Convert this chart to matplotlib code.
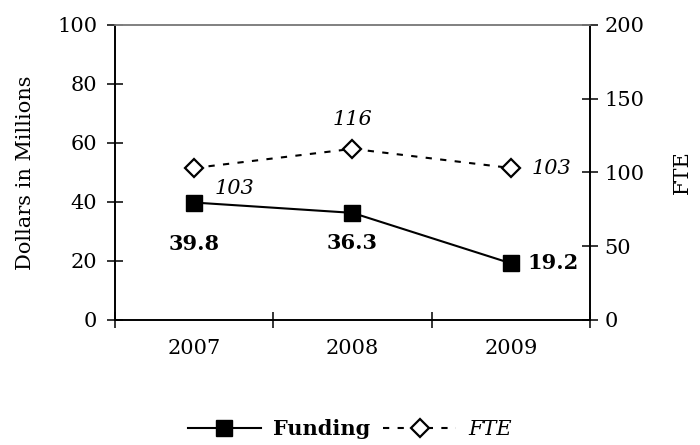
import numpy as np
import matplotlib.pyplot as plt

years = ['2007', '2008', '2009']
funding = [39.8, 36.3, 19.2]
fte = [103, 116, 103]

plt.rcParams['font.family'] = 'DejaVu Serif'
plt.rcParams['font.size'] = 15

fig = plt.figure(figsize=(7, 4.45), dpi=100)
ax = fig.add_axes([0.164, 0.281, 0.679, 0.663])
ax2 = ax.twinx()

x = np.arange(len(years)) + 0.5

l1, = ax.plot(x, funding, '-', color='black', lw=1.5, marker='s', ms=11,
              markerfacecolor='black', label='Funding')
l2, = ax2.plot(x, fte, color='black', lw=1.5, ls=(0, (3, 4)), marker='D', ms=9,
               markerfacecolor='white', markeredgewidth=1.6, label='FTE')

ax.set_xlim(0, 3)
ax.set_ylim(0, 100)
ax2.set_ylim(0, 200)
ax.set_yticks(np.arange(0, 101, 20))
ax2.set_yticks(np.arange(0, 201, 50))
ax.set_xticks(np.arange(0, 4))
ax.set_xticklabels([])
ax.set_xticks(x, minor=True)
ax.set_xticklabels(years, minor=True)
ax.tick_params(axis='x', which='minor', length=0, pad=14)
ax.tick_params(axis='x', which='major', direction='inout', length=12, width=1.1)
ax.tick_params(axis='y', direction='inout', length=11, width=1.1, pad=7)
ax2.tick_params(axis='y', direction='inout', length=11, width=1.1, pad=5)

for a in (ax, ax2):
    for s in a.spines.values():
        s.set_linewidth(1.2)
    a.spines['top'].set_color('#808080')
ax.set_ylabel('Dollars in Millions', labelpad=16)
ax2.set_ylabel('FTE', labelpad=20)

# funding labels
offs_f = [(0, -30), (0, -22), (12, 0)]
has_f = ['center', 'center', 'left']
for xi, v, o, ha in zip(x, funding, offs_f, has_f):
    ax.annotate(f'{v:.1f}', (xi, v), xytext=o, textcoords='offset points',
                ha=ha, va='center', fontweight='bold')

# FTE labels
offs_t = [(29, -15), (0, 21), (15, 0)]
has_t = ['center', 'center', 'left']
for xi, v, o, ha in zip(x, fte, offs_t, has_t):
    ax2.annotate(f'{v}', (xi, v), xytext=o, textcoords='offset points',
                 ha=ha, va='center', fontstyle='italic')

leg = fig.legend(handles=[l1, l2], loc='center', bbox_to_anchor=(0.5, 0.035),
                 ncol=2, frameon=False, handlelength=3.5, columnspacing=0.6,
                 handletextpad=0.6)
leg.get_texts()[0].set_fontweight('bold')
leg.get_texts()[1].set_fontstyle('italic')

fig.savefig('out.png', dpi=100)
